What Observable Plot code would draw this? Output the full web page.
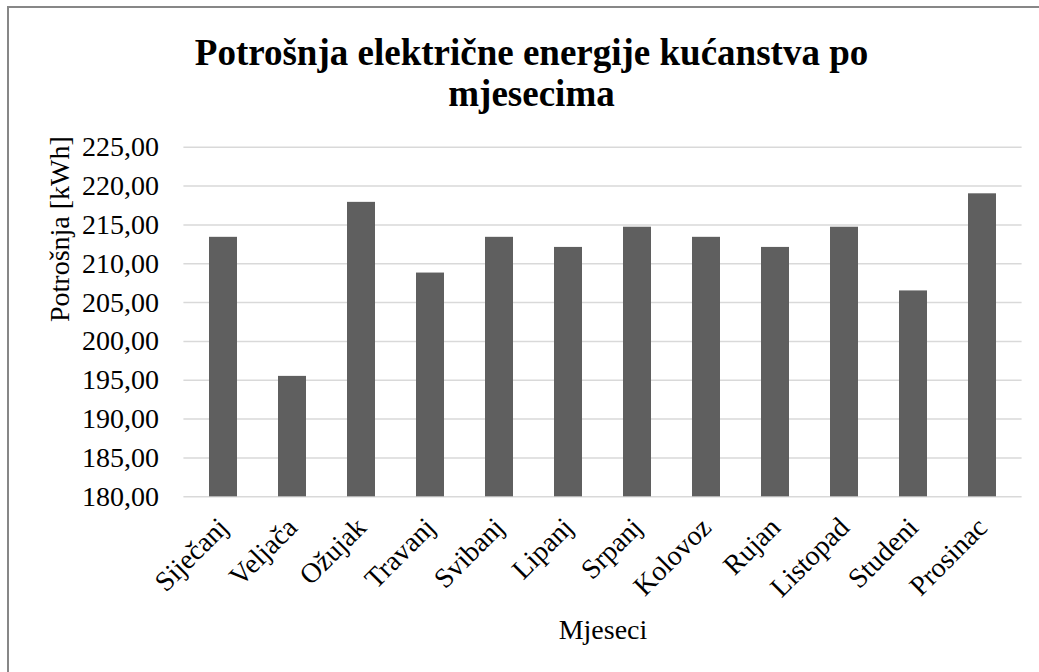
<!DOCTYPE html>
<html>
<head>
<meta charset="utf-8">
<script src="https://cdn.jsdelivr.net/npm/d3@7"></script>
<script src="https://cdn.jsdelivr.net/npm/@observablehq/plot@0.6"></script>
<style>
html, body { margin: 0; padding: 0; background: #fff; }
#wrap { position: relative; width: 1039px; height: 672px; overflow: hidden; background: #fff; }
#frame { position: absolute; left: 7px; top: 6px; width: 1100px; height: 800px; border-left: 2px solid #878787; border-top: 2px solid #878787; }
#chart { position: absolute; left: 0; top: 0; }
</style>
</head>
<body>
<div id="wrap">
  <div id="frame"></div>
  <div id="chart"></div>
</div>
<script>
const titleLines = ["Potrošnja električne energije kućanstva po", "mjesecima"];
const months = ["Siječanj", "Veljača", "Ožujak", "Travanj", "Svibanj", "Lipanj", "Srpanj", "Kolovoz", "Rujan", "Listopad", "Studeni", "Prosinac"];
const consumption = [213.4, 195.5, 217.9, 208.8, 213.4, 212.1, 214.7, 213.4, 212.1, 214.7, 206.5, 219.0];
const yTicks = [180, 185, 190, 195, 200, 205, 210, 215, 220, 225];
const yLabel = "Potrošnja [kWh]";
const xLabel = "Mjeseci";

const data = months.map((m, i) => ({month: m, value: consumption[i]}));
const fmt = v => v.toFixed(2).replace(".", ",");
const serif = '"Liberation Serif", "Times New Roman", Times, serif';

const plot = Plot.plot({
  width: 1039,
  height: 672,
  marginLeft: 183.4,
  marginRight: 17.4,
  marginTop: 146.7,
  marginBottom: 175.7,
  style: {fontFamily: serif, fontSize: "28px", color: "#000", background: "transparent", overflow: "visible"},
  x: {domain: months, paddingInner: 0.6, paddingOuter: 0.3, label: null},
  y: {domain: [yTicks[0], yTicks[yTicks.length - 1]], label: null},
  marks: [
    Plot.gridY(yTicks, {stroke: "#d9d9d9", strokeOpacity: 1, strokeWidth: 1.5}),
    Plot.barY(data, {x: "month", y1: yTicks[0], y2: "value", fill: "#5f5f5f"}),
    Plot.axisY(yTicks, {tickSize: 0, tickPadding: 25, tickFormat: fmt, fill: "#000", label: null}),
    Plot.axisX({tickSize: 0, tickRotate: -45, tickPadding: 26, fill: "#000", label: null}),
    Plot.text([yLabel], {frameAnchor: "left", dx: -123.4, rotate: -90, text: d => d, fill: "#000", lineAnchor: "middle"}),
    Plot.text([xLabel], {frameAnchor: "bottom", dy: 133.7, text: d => d, fill: "#000", lineAnchor: "middle"}),
    Plot.text([titleLines.join("\n")], {frameAnchor: "top", dx: -71.5, dy: -75, text: d => d, fill: "#000", lineAnchor: "middle", textAnchor: "middle", fontSize: 37, fontWeight: "bold", fontFamily: serif, lineHeight: 41 / 37})
  ]
});
document.getElementById("chart").appendChild(plot);
</script>
</body>
</html>
